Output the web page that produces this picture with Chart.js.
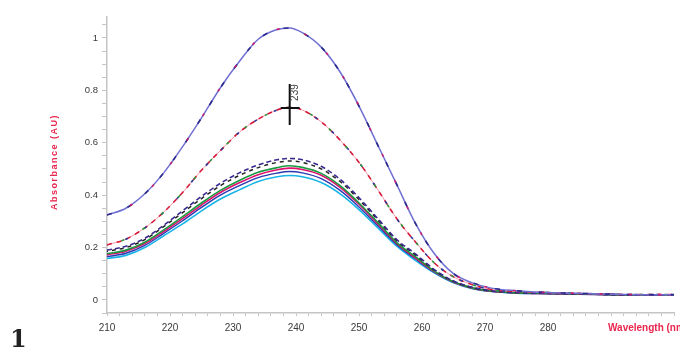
<!DOCTYPE html>
<html><head><meta charset="utf-8">
<script src="https://cdn.jsdelivr.net/npm/chart.js@4"></script>
<style>html,body{margin:0;padding:0;background:#fff;}canvas{display:block}</style>
</head><body>
<canvas id="c" width="680" height="348"></canvas>
<script>
const wavelengths = [210,213,216,219,222,225,228,231,234,237,239,241,244,247,250,253,256,259,262,265,268,271,275,280,285,290,295,300];
const seriesA  = [0.324,0.35,0.405,0.485,0.585,0.695,0.81,0.91,0.995,1.032,1.038,1.02,0.965,0.87,0.74,0.59,0.44,0.29,0.175,0.1,0.065,0.045,0.035,0.028,0.025,0.022,0.02,0.02];
const seriesB  = [0.21,0.232,0.275,0.335,0.41,0.495,0.57,0.64,0.69,0.725,0.735,0.725,0.68,0.61,0.525,0.42,0.31,0.22,0.14,0.088,0.058,0.04,0.032,0.028,0.025,0.022,0.02,0.02];
const seriesC1 = [0.19,0.205,0.235,0.285,0.34,0.395,0.445,0.485,0.515,0.535,0.54,0.535,0.51,0.46,0.39,0.31,0.23,0.175,0.115,0.072,0.048,0.035,0.028,0.025,0.023,0.02,0.018,0.018];
const seriesC2 = [0.185,0.2,0.23,0.28,0.333,0.387,0.436,0.475,0.505,0.525,0.53,0.525,0.5,0.452,0.383,0.305,0.226,0.171,0.113,0.071,0.047,0.035,0.028,0.025,0.023,0.02,0.018,0.018];
const seriesC3 = [0.176,0.19,0.22,0.267,0.318,0.37,0.418,0.456,0.487,0.505,0.512,0.506,0.483,0.436,0.37,0.295,0.219,0.164,0.109,0.069,0.046,0.034,0.027,0.025,0.023,0.02,0.018,0.018];
const seriesC4 = [0.172,0.186,0.215,0.261,0.31,0.362,0.41,0.447,0.478,0.497,0.503,0.498,0.476,0.43,0.365,0.29,0.216,0.16,0.107,0.068,0.045,0.033,0.027,0.024,0.022,0.02,0.018,0.018];
const seriesC5 = [0.165,0.178,0.208,0.254,0.302,0.353,0.4,0.436,0.467,0.484,0.49,0.485,0.463,0.418,0.355,0.283,0.211,0.156,0.105,0.067,0.044,0.033,0.026,0.024,0.022,0.02,0.018,0.018];
const seriesC6 = [0.158,0.17,0.2,0.245,0.29,0.34,0.385,0.42,0.452,0.47,0.475,0.47,0.448,0.405,0.345,0.275,0.205,0.15,0.102,0.065,0.043,0.032,0.026,0.024,0.022,0.02,0.018,0.018];
const xTickLabels = ['210','220','230','240','250','260','270','280'];
const yTickLabels = ['0','0.2','0.4','0.6','0.8','1'];
const xMinorStep = 2;
const yMinorStep = 0.05;
const peakLabel = '239';
const peakWavelength = 239;
const peakAbsorbance = 0.733;

function pts(arr){ return wavelengths.map((w,i)=>({x:w,y:arr[i]})); }
function ds(arr,color,dash,width,offset){
  return {data:pts(arr),borderColor:color,borderWidth:width||1.5,borderDash:dash||[],borderDashOffset:offset||0,
    pointRadius:0,fill:false,cubicInterpolationMode:'monotone'};
}
const datasets = [
  ds(seriesA,'#c81e6e',[3,26],1.6,4),
  ds(seriesA,'#2a2a8c',[5,17],1.6,0),
  ds(seriesA,'#7070d2',[],1.5),
  ds(seriesB,'#2c9a3c',[3,21],1.6,9),
  ds(seriesB,'#2a3a9a',[3,19],1.6,3),
  ds(seriesB,'#d81a3a',[5,5],1.6,0),
  ds(seriesB,'#f08090',[],0.8),
  ds(seriesC1,'#3a2a90',[5,3],1.6),
  ds(seriesC2,'#222222',[4,4],1.5,3),
  ds(seriesC3,'#1a9a40',[],1.6),
  ds(seriesC4,'#e0106e',[],1.6),
  ds(seriesC5,'#2a3ab0',[],1.4),
  ds(seriesC6,'#18b4e8',[],1.6)
];

const textPlugin = {
  id:'texts',
  afterDatasetsDraw(chart){
    const ctx = chart.ctx, xs = chart.scales.x, ys = chart.scales.y;
    const px = xs.getPixelForValue(peakWavelength), py = ys.getPixelForValue(peakAbsorbance);
    ctx.save();
    ctx.strokeStyle = '#111'; ctx.lineWidth = 2;
    ctx.beginPath();
    ctx.moveTo(px-9,py); ctx.lineTo(px+10,py);
    ctx.moveTo(px,py-24); ctx.lineTo(px,py+17);
    ctx.stroke();
    ctx.translate(px+6,py-7); ctx.rotate(-Math.PI/2);
    ctx.fillStyle = '#444'; ctx.font = '10px "Liberation Sans"';
    ctx.textAlign = 'left'; ctx.textBaseline = 'middle';
    ctx.fillText(peakLabel,0,0);
    ctx.restore();
  },
  afterDraw(chart){
    const ctx = chart.ctx;
    ctx.save();
    ctx.fillStyle = '#e8254d';
    ctx.font = 'bold 10px "Liberation Sans"';
    ctx.textAlign = 'left'; ctx.textBaseline = 'middle';
    ctx.fillText('Wavelength (nm)', 608, 328);
    ctx.translate(55,162); ctx.rotate(-Math.PI/2);
    ctx.textAlign = 'center';
    ctx.font = 'bold 9px "Liberation Sans"';
    if ('letterSpacing' in ctx) ctx.letterSpacing = '1.5px';
    ctx.fillText('Absorbance (AU)',0,0);
    ctx.restore();
    ctx.save();
    ctx.fillStyle = '#222';
    ctx.font = 'bold 24px "DejaVu Serif"';
    ctx.textAlign = 'left'; ctx.textBaseline = 'alphabetic';
    ctx.fillText('1', 10, 347);
    ctx.restore();
  }
};

const axisColor = '#c4c4c4';
new Chart(document.getElementById('c'), {
  type:'line',
  data:{datasets},
  options:{
    responsive:false, animation:false, devicePixelRatio:1,
    layout:{padding:{left:0,right:0,top:17,bottom:0}},
    plugins:{legend:{display:false},tooltip:{enabled:false}},
    scales:{
      x:{type:'linear',min:210,max:300,
        afterFit(s){ s.height = 35; },
        afterBuildTicks(s){ const t=[]; for(let v=210; v<=300.001; v+=xMinorStep) t.push({value:Math.round(v)}); s.ticks=t; },
        border:{display:true,color:axisColor,width:1.5},
        grid:{drawOnChartArea:false,drawTicks:true,tickLength:3,color:axisColor,lineWidth:1},
        ticks:{autoSkip:false,maxRotation:0,padding:6,color:'#3a3a3a',font:{family:'Liberation Sans',size:10},
          callback(v){ const s=String(v); return xTickLabels.includes(s)?s:''; }}
      },
      y:{type:'linear',min:-0.05,max:1.08,
        afterFit(s){ s.width = 107; },
        afterBuildTicks(s){ const t=[]; for(let i=-1;i<=21;i++) t.push({value:Math.round(i*yMinorStep*100)/100}); s.ticks=t; },
        border:{display:true,color:axisColor,width:1.5},
        grid:{drawOnChartArea:false,drawTicks:true,tickLength:5,color:axisColor,lineWidth:1},
        ticks:{autoSkip:false,padding:4,color:'#3a3a3a',font:{family:'Liberation Sans',size:9.5},
          callback(v){ const s=String(Math.round(v*100)/100); return yTickLabels.includes(s)?s:''; }}
      }
    }
  },
  plugins:[textPlugin]
});
</script>
</body></html>
